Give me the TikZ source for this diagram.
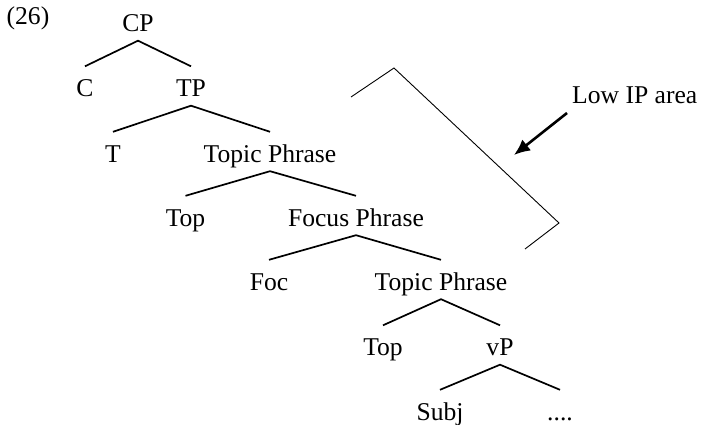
\documentclass[tikz,border=0pt]{standalone}
\usepackage{fontspec}
\setmainfont{Liberation Serif}
\usetikzlibrary{arrows.meta}
\begin{document}
\begin{tikzpicture}[x=1pt,y=-1pt,
  lab/.style={font=\fontsize{25.6}{29}\selectfont, inner sep=0pt, text height=30pt, text depth=9pt, anchor=base},
  plain/.style={font=\fontsize{25.6}{29}\selectfont, inner sep=0pt, anchor=base},
  branch/.style={line width=1.7pt},
  bracket/.style={line width=0.9pt, line join=miter},
  pointer/.style={line width=2.6pt, -{Latex[length=16pt,width=14pt]}}]
\useasboundingbox (0,0) rectangle (703,425);
\node[plain] (num) at (28,25) {(26)};
\node[lab] (CP) at (138,31.5) {CP};
\node[lab] (C) at (85,96.5) {C};
\node[lab] (TP) at (191,96.5) {TP};
\node[lab] (T) at (113,162) {T};
\node[lab] (TopP1) at (270,162) {Topic Phrase};
\node[lab] (Top1) at (185.5,226) {Top};
\node[lab] (FocP) at (356,226) {Focus Phrase};
\node[lab] (Foc) at (269,290) {Foc};
\node[lab] (TopP2) at (441,290) {Topic Phrase};
\node[lab] (Top2) at (383,355.5) {Top};
\node[lab] (vP) at (500,355.5) {vP};
\node[lab] (Subj) at (440,420) {Subj};
\node[lab] (dots) at (560,420) {....};
\node[plain, anchor=base west] (low) at (572,103) {Low IP area};
\draw[branch] (C.north) -- (CP.south) -- (TP.north);
\draw[branch] (T.north) -- (TP.south) -- (TopP1.north);
\draw[branch] (Top1.north) -- (TopP1.south) -- (FocP.north);
\draw[branch] (Foc.north) -- (FocP.south) -- (TopP2.north);
\draw[branch] (Top2.north) -- (TopP2.south) -- (vP.north);
\draw[branch] (Subj.north) -- (vP.south) -- (dots.north);
\coordinate (b1) at (351,97);
\coordinate (b2) at (394,68);
\coordinate (b3) at (559,223);
\coordinate (b4) at (525,249);
\draw[bracket] (b1) -- (b2) -- (b3) -- (b4);
\coordinate (a1) at (567,113);
\coordinate (a2) at (514,155);
\draw[pointer] (a1) -- (a2);
\end{tikzpicture}
\end{document}
